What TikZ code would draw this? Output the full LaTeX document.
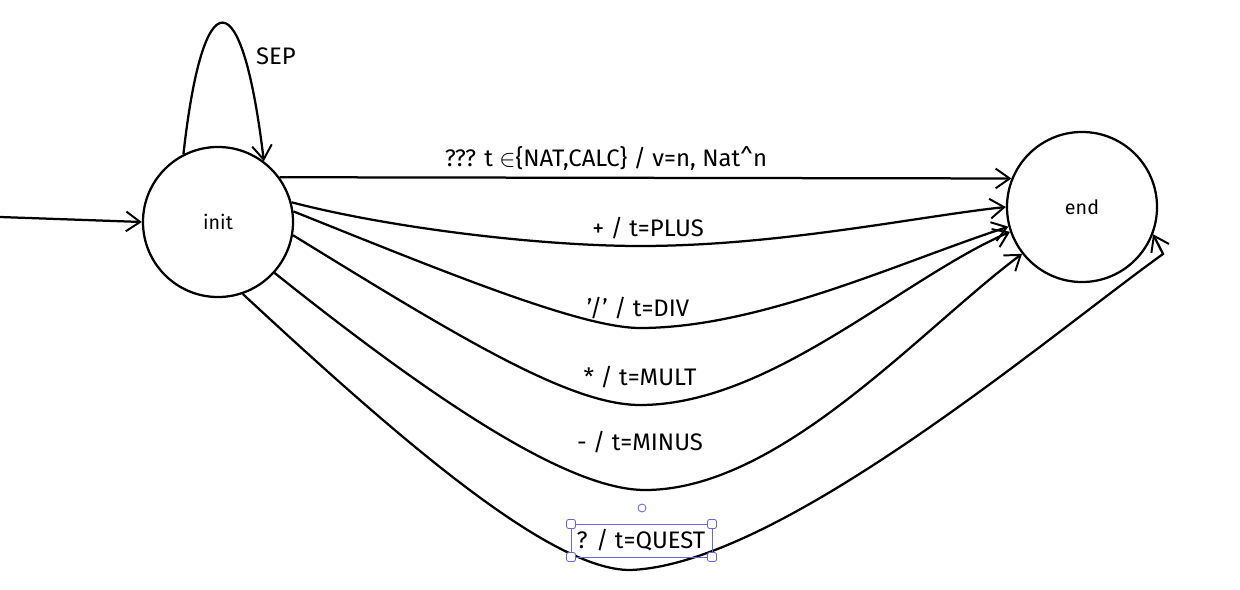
\documentclass[tikz,border=0pt]{standalone}
\usepackage{fontspec}
\setmainfont{Fira Sans}
\usetikzlibrary{arrows.meta}

\begin{document}
\begin{tikzpicture}[x=0.025cm,y=-0.025cm,
  etat/.style={draw,circle,line width=1.6pt,minimum size=3.75cm,inner sep=0pt,font=\fontsize{14}{16}\selectfont},
  trans/.style={line width=1.6pt,-{Straight Barb[length=10pt,width=14pt,line width=1.4pt]}},
  etiq/.style={font=\fontsize{17}{19}\selectfont,inner sep=1pt},
  selec/.style={draw=selcol,line width=0.6pt}]
\definecolor{selcol}{HTML}{6965DB}
\useasboundingbox (0,0) rectangle (1240,590);

\node[etat] (init) at (218,222) {init};
\node[etat] (end) at (1082,207) {end};
\coordinate (debut) at (0,217);

\draw[trans] (debut) -- (init.west);
% boucle
\draw[trans] (init.117) .. controls (203,-22) and (242,-22) .. (init.53);
\node[etiq] (sep) at (276,56) {SEP};

\draw[trans] (init.36) -- (end.158);
\node[etiq] (lnat) at (606,158) {??? t $\in$\{NAT,CALC\} / v=n, Nat\^{}n};

\draw[trans] (init.15) .. controls (390,228) and (540,246) .. (640,246)
  .. controls (780,246) and (920,216) .. (end.180);
\node[etiq] (lplus) at (648,228) {+ / t=PLUS};

\draw[trans] (init.8) .. controls (440,270) and (580,328) .. (640,328)
  .. controls (760,328) and (900,262) .. (end.195);
\node[etiq] (ldiv) at (638,308) {'/' / t=DIV};

\draw[trans] (init.-10) .. controls (460,338) and (570,405) .. (640,405)
  .. controls (770,405) and (900,280) .. (end.199);
\node[etiq] (lmult) at (640,377) {* / t=MULT};

\draw[trans] (init.-42) .. controls (440,405) and (570,490) .. (645,490)
  .. controls (780,490) and (920,330) .. (end.218);
\node[etiq] (lminus) at (640,442) {- / t=MINUS};

\draw[trans] (init.-71) .. controls (400,440) and (550,570) .. (630,570)
  .. controls (780,565) and (1050,335) .. (1163,254) -- (end.-21);
\node[etiq] (lquest) at (641,540) {? / t=QUEST};

% cadre de selection
\draw[selec] (571,524) rectangle (712,557);
\foreach \p in {(571,524),(712,524),(571,557),(712,557)}
  \draw[selec,fill=white,rounded corners=1.5pt] \p ++(-4.5,-4.5) rectangle ++(9,9);
\draw[selec,fill=white] (642,508) circle (4);
\end{tikzpicture}
\end{document}
